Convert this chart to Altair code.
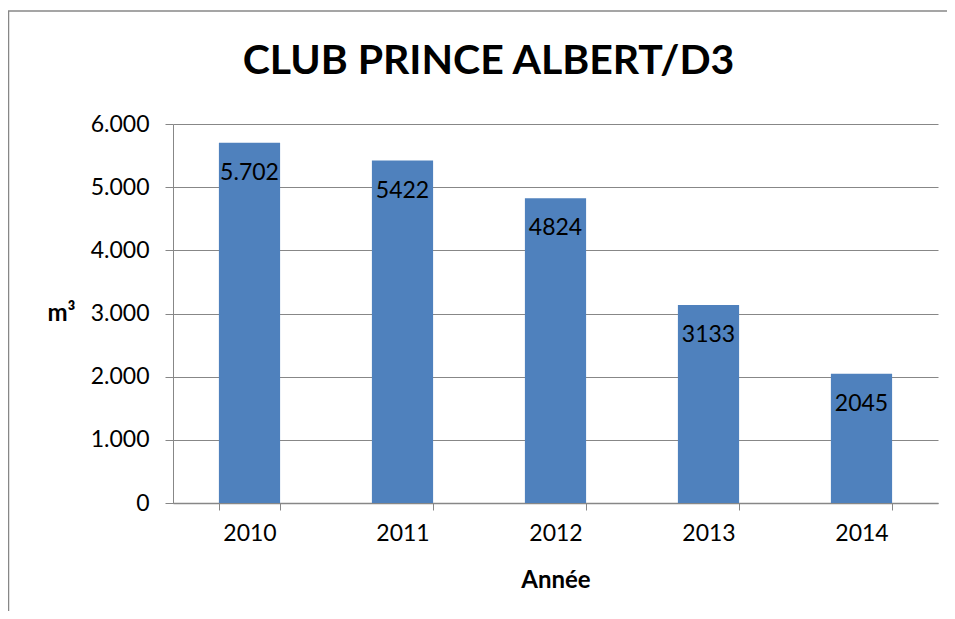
import altair as alt
import pandas as pd

years = ["2010", "2011", "2012", "2013", "2014"]
volumes = [5702, 5422, 4824, 3133, 2045]
labels = ["5.702", "5422", "4824", "3133", "2045"]
y_ticks = [0, 1000, 2000, 3000, 4000, 5000, 6000]

df = pd.DataFrame({"year": years, "value": volumes, "label": labels})

FONT = "Lato"
GRAY = "#878787"
W, H = 765, 379

x_enc = alt.X(
    "year:N",
    sort=years,
    scale=alt.Scale(paddingInner=0.6, paddingOuter=0.3),
    axis=alt.Axis(
        title="Année",
        labelAngle=0,
        labelFontSize=23,
        labelPadding=12,
        tickBand="extent",
        tickSize=7,
        tickColor=GRAY,
        domainColor=GRAY,
        domainWidth=1.5,
        titleFontSize=24,
        titleFontWeight="bold",
        titleY=77,
        titleBaseline="middle",
    ),
)
y_enc = alt.Y(
    "value:Q",
    scale=alt.Scale(domain=[0, 6000]),
    axis=alt.Axis(
        title="m³",
        values=y_ticks,
        labelExpr="replace(format(datum.value, ','), ',', '.')",
        labelFontSize=23,
        labelPadding=16,
        tickSize=8,
        tickColor=GRAY,
        domainColor=GRAY,
        gridColor=GRAY,
        grid=True,
        titleAngle=0,
        titleFontSize=24,
        titleFontWeight="bold",
        titleX=-112,
        titleY=189,
        titleAlign="center",
        titleBaseline="middle",
    ),
)

base = alt.Chart(df)
bars = base.mark_bar(color="#4F81BD").encode(x=x_enc, y=y_enc)
text = base.mark_text(baseline="middle", dy=30, fontSize=23, font=FONT, color="black").encode(
    x=alt.X("year:N", sort=years), y="value:Q", text="label:N"
)

frame_data = alt.Data(values=[{"k": 1}])
top_line = alt.Chart(frame_data).mark_rule(color=GRAY, strokeWidth=1.5).encode(
    x=alt.value(-165), x2=alt.value(800), y=alt.value(-113)
)
left_line = alt.Chart(frame_data).mark_rule(color=GRAY, strokeWidth=1.5).encode(
    x=alt.value(-164.5), y=alt.value(-113), y2=alt.value(600)
)

chart = (
    alt.layer(bars, text, top_line, left_line)
    .properties(
        width=W,
        height=H,
        autosize=alt.AutoSizeParams(type="none"),
        padding={"left": 165, "top": 116, "right": 9, "bottom": 108},
        title=alt.TitleParams(
            "CLUB PRINCE ALBERT/D3",
            fontSize=41,
            fontWeight="bold",
            font=FONT,
            color="black",
            anchor="middle",
            dx=-67,
            dy=77,
        ),
    )
    .configure(font=FONT)
    .configure_axis(labelColor="black", titleColor="black", labelFont=FONT, titleFont=FONT)
    .configure_view(stroke=None)
)

chart.save("out.html", embed_options={"renderer": "svg", "actions": False})
